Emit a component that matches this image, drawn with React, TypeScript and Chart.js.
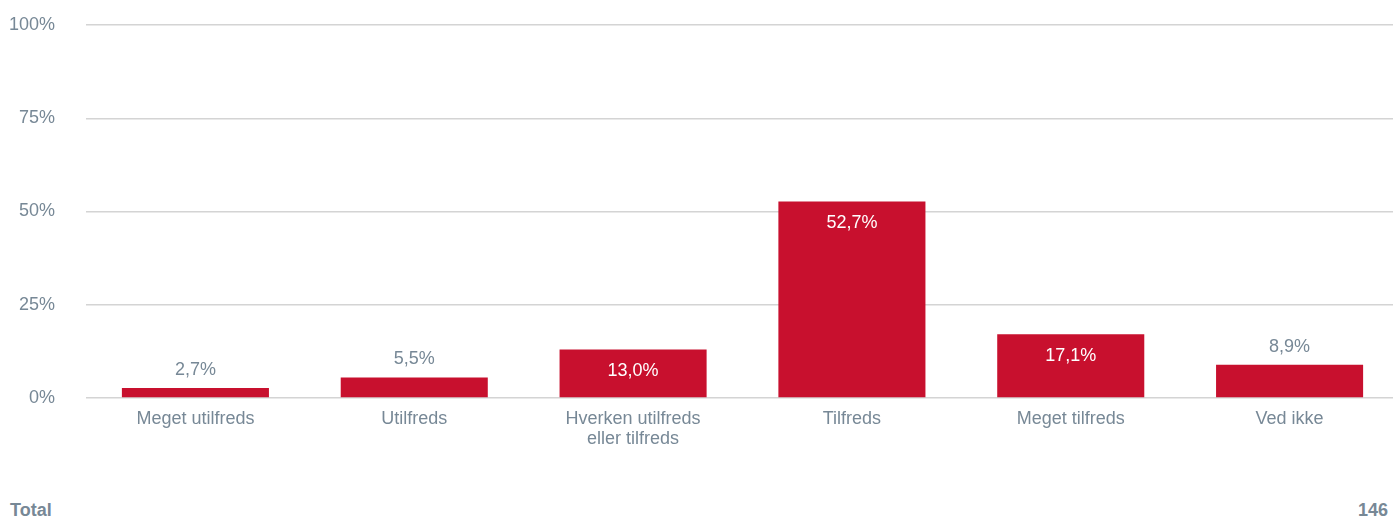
import React, { useEffect, useRef } from "react";
import { Chart, registerables } from "chart.js";

Chart.register(...registerables);

const categories: (string | string[])[] = [
  "Meget utilfreds",
  "Utilfreds",
  ["Hverken utilfreds", "eller tilfreds"],
  "Tilfreds",
  "Meget tilfreds",
  "Ved ikke",
];
const values: number[] = [2.7, 5.5, 13.0, 52.7, 17.1, 8.9];
const yTicks: number[] = [0, 25, 50, 75, 100];
const footerLabel = "Total";
const footerValue = "146";

const BAR_COLOR = "#c8102e";
const TEXT_COLOR = "#778896";
const GRID_COLOR = "#d4d4d4";
const FONT = "'Liberation Sans', Arial, sans-serif";

const W = 1393;
const CW = 1399;
const H = 460;

const valueLabelPlugin = {
  id: "valueLabels",
  afterDatasetsDraw(chart: any) {
    const ctx = chart.ctx;
    const meta = chart.getDatasetMeta(0);
    ctx.save();
    ctx.font = `18px ${FONT}`;
    ctx.textAlign = "center";
    ctx.textBaseline = "middle";
    meta.data.forEach((bar: any, i: number) => {
      const v = values[i];
      const text = v.toFixed(1).replace(".", ",") + "%";
      const barH = bar.base - bar.y;
      if (barH > 40) {
        ctx.fillStyle = "#ffffff";
        ctx.fillText(text, bar.x, bar.y + 22);
      } else {
        ctx.fillStyle = TEXT_COLOR;
        ctx.fillText(text, bar.x, bar.y - 18);
      }
    });
    ctx.restore();
  },
};

export default function App() {
  const ref = useRef<HTMLCanvasElement | null>(null);

  useEffect(() => {
    document.body.style.margin = "0";
    if (!ref.current) return;
    const chart = new Chart(ref.current, {
      type: "bar",
      data: {
        labels: categories,
        datasets: [
          {
            data: values,
            backgroundColor: BAR_COLOR,
            categoryPercentage: 0.672,
            barPercentage: 1,
          },
        ],
      },
      options: {
        animation: false,
        responsive: false,
        maintainAspectRatio: false,
        layout: { padding: { top: 25, right: 0, left: 0, bottom: 0 } },
        plugins: {
          legend: { display: false },
          tooltip: { enabled: false },
        },
        scales: {
          x: {
            grid: { display: false, drawTicks: false },
            border: { display: false },
            ticks: {
              color: TEXT_COLOR,
              font: { family: FONT, size: 18, lineHeight: 1.1 },
              padding: 11,
              maxRotation: 0,
              autoSkip: false,
            },
            afterFit(scale: any) {
              scale.height = H - 398;
            },
          },
          y: {
            min: 0,
            max: 100,
            afterBuildTicks(scale: any) {
              scale.ticks = yTicks.map((v) => ({ value: v }));
            },
            grid: {
              color: GRID_COLOR,
              lineWidth: 1.5,
              drawTicks: false,
            },
            border: { display: false },
            ticks: {
              color: TEXT_COLOR,
              font: { family: FONT, size: 18 },
              padding: 31,
              callback: (v: any) => `${v}%`,
            },
            afterFit(scale: any) {
              scale.width = 86;
              scale.paddingTop = 0;
              scale.paddingBottom = 0;
            },
          },
        },
      },
      plugins: [valueLabelPlugin],
    });
    return () => chart.destroy();
  }, []);

  return (
    <div style={{ position: "relative", width: W, height: 518, background: "#fff", overflow: "hidden" }}>
      <canvas ref={ref} width={CW} height={H} style={{ display: "block" }} />
      <div
        style={{
          position: "absolute",
          left: 10,
          top: 499,
          font: `bold 18px ${FONT}`,
          color: TEXT_COLOR,
          lineHeight: "22px",
        }}
      >
        {footerLabel}
      </div>
      <div
        style={{
          position: "absolute",
          right: 5,
          top: 499,
          font: `bold 18px ${FONT}`,
          color: TEXT_COLOR,
          lineHeight: "22px",
        }}
      >
        {footerValue}
      </div>
    </div>
  );
}
